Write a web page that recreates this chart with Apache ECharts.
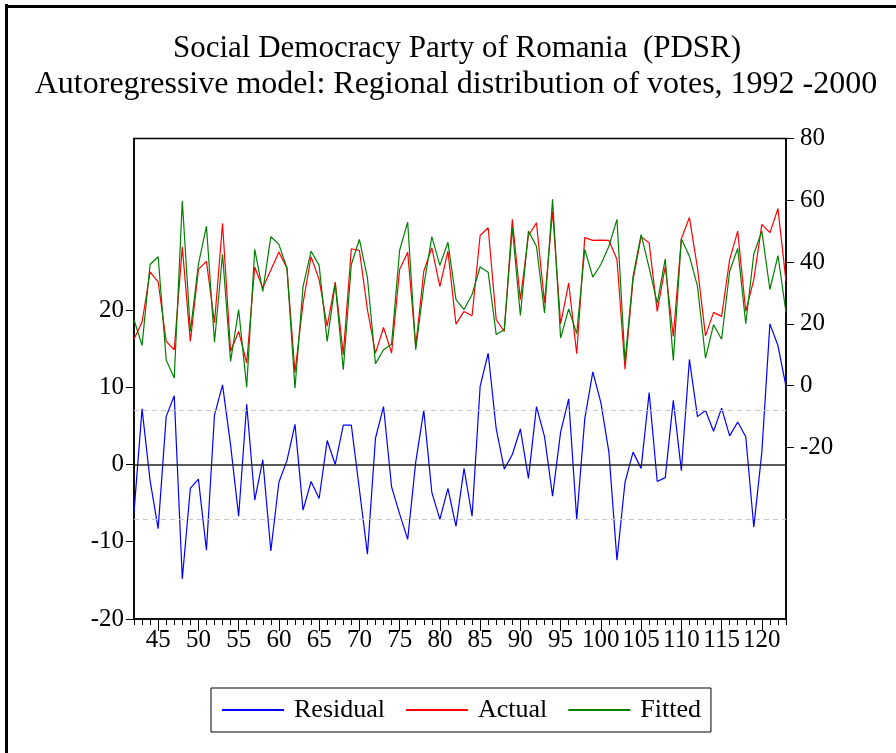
<!DOCTYPE html>
<html>
<head>
<meta charset="utf-8">
<script src="https://cdn.jsdelivr.net/npm/echarts@6/dist/echarts.min.js"></script>
<style>
html,body{margin:0;padding:0;background:#fff;}
#chart{width:896px;height:753px;}
</style>
</head>
<body>
<div id="chart"></div>
<script>
// Observations 42..123
var obsStart = 42, obsEnd = 123;
var residual = [-6.2,7.2,-2.1,-8.3,6.2,8.9,-14.8,-3.1,-1.9,-11.1,6.4,10.3,2.5,-6.7,7.8,-4.6,0.6,-11.2,-2.3,0.5,5.2,
  -5.9,-2.2,-4.4,3.1,0.0,5.1,5.1,-3.2,-11.6,3.4,7.5,-2.9,-6.4,-9.7,0.3,7.0,-3.6,-7.1,-3.1,-8.0,
  -0.5,-6.7,10.1,14.4,4.6,-0.6,1.3,4.6,-1.8,7.5,3.6,-4.1,4.2,8.5,-7.1,5.9,12.0,8.0,1.6,-12.4,
  -2.3,1.6,-0.5,9.3,-2.2,-1.7,8.3,-0.8,13.6,6.2,7.0,4.3,7.3,3.7,5.5,3.6,-8.1,1.6,18.2,15.4,10.1];
var actual = [15.1,20.5,36.8,33.6,14.3,11.6,44.9,14.3,37.6,40.2,20.3,52.5,11.1,17.5,7.3,38.4,31.6,37.4,43.2,38.1,4.2,
  26.7,41.7,34.3,19.2,33.5,10.0,44.3,43.8,24.6,10.5,18.8,10.5,37.6,43.2,12.7,37.0,44.6,32.0,43.5,19.9,
  24.0,22.6,48.6,51.1,21.3,17.5,53.8,27.8,48.6,52.7,26.7,56.5,20.0,33.2,10.3,47.9,47.0,47.1,47.0,40.8,
  5.3,34.3,48.2,46.2,24.0,38.6,15.9,47.5,54.4,38.1,16.1,23.7,22.4,40.8,50.0,24.0,34.3,52.2,49.5,57.3,33.8];
var fitted = [21.3,13.0,39.2,41.7,8.3,2.4,59.8,17.5,39.2,51.6,14.0,42.5,7.8,24.6,-0.5,44.1,30.5,48.2,45.7,38.1,-0.9,
  32.0,43.5,38.9,14.3,33.0,5.1,39.2,47.3,34.9,7.1,11.6,13.4,43.8,52.9,11.6,32.2,48.2,38.9,46.4,27.8,
  24.6,29.5,38.4,36.7,16.5,18.1,51.1,22.7,50.0,45.1,23.5,60.3,15.4,24.8,16.8,44.1,35.1,39.2,45.1,53.8,
  7.8,35.4,48.9,38.1,26.7,41.0,8.1,47.5,41.9,32.2,8.9,19.7,15.0,37.0,44.4,20.0,42.6,50.0,31.1,42.1,23.7];
var xTickLabels = [45,50,55,60,65,70,75,80,85,90,95,100,105,110,115,120];
var leftTicks = [-20,-10,0,10,20];
var rightTicks = [-20,0,20,40,60,80];
var seBand = 7.05;

function pairs(arr){ return arr.map(function(v,i){ return [obsStart+i, v]; }); }
var minorTicks = [];
for (var k = obsStart; k <= obsEnd; k++) minorTicks.push(k);

var serif = 'Liberation Serif';
var chart = echarts.init(document.getElementById('chart'), null, {renderer:'canvas'});
chart.setOption({
  animation:false,
  backgroundColor:'#fff',
  title:[
    {text:'Social Democracy Party of Romania  (PDSR)', left:452, top:28, textAlign:'center',
     textStyle:{fontFamily:serif, fontSize:31, fontWeight:'normal', color:'#000'}},
    {text:'Autoregressive model: Regional distribution of votes, 1992 -2000', left:451, top:64, textAlign:'center',
     textStyle:{fontFamily:serif, fontSize:32, fontWeight:'normal', color:'#000'}}
  ],
  graphic:[
    {type:'line', shape:{x1:6.5,y1:4,x2:6.5,y2:753}, style:{stroke:'#000', lineWidth:3}},
    {type:'line', shape:{x1:5,y1:6.5,x2:896,y2:6.5}, style:{stroke:'#000', lineWidth:3}}
  ],
  legend:{
    bottom:21, left:211,
    data:['Residual','Actual','Fitted'],
    itemWidth:62, itemHeight:2, itemGap:20,
    borderColor:'#000', borderWidth:1, padding:[9,10,9,10],
    textStyle:{fontFamily:serif, fontSize:26, color:'#000', padding:[0,0,0,5]}
  },
  grid:{left:134, right:110, top:138.5, bottom:134, show:true, borderColor:'#000', borderWidth:1.5, containLabel:false},
  xAxis:[
    {type:'value', min:obsStart, max:obsEnd, position:'bottom',
     axisLine:{show:true, onZero:false, lineStyle:{color:'#000', width:1.5}},
     axisTick:{show:true, inside:false, length:6, customValues:minorTicks, lineStyle:{color:'#000'}},
     axisLabel:{show:false},
     splitLine:{show:false}},
    {type:'value', min:obsStart, max:obsEnd, position:'bottom',
     axisLine:{show:false, onZero:false},
     axisTick:{show:true, inside:false, length:12, customValues:xTickLabels, lineStyle:{color:'#000'}},
     axisLabel:{show:true, customValues:xTickLabels, margin:9, fontFamily:serif, fontSize:25, color:'#000'},
     splitLine:{show:false}}
  ],
  yAxis:[
    {type:'value', position:'left', min:-20, max:42.2,
     axisLine:{show:true, onZero:false, lineStyle:{color:'#000', width:1.5}},
     axisTick:{show:true, inside:false, length:8, customValues:leftTicks, lineStyle:{color:'#000'}},
     axisLabel:{show:true, customValues:leftTicks, margin:10, fontFamily:serif, fontSize:25, color:'#000'},
     splitLine:{show:false}},
    {type:'value', position:'right', min:-75.6, max:80,
     axisLine:{show:true, onZero:false, lineStyle:{color:'#000', width:1.5}},
     axisTick:{show:true, inside:false, length:8, customValues:rightTicks, lineStyle:{color:'#000'}},
     axisLabel:{show:true, customValues:rightTicks, margin:14, fontFamily:serif, fontSize:25, color:'#000'},
     splitLine:{show:false}}
  ],
  series:[
    {name:'Residual', type:'line', xAxisIndex:0, yAxisIndex:0, data:pairs(residual),
     symbol:'none', lineStyle:{color:'#0000ff', width:1.2}, itemStyle:{color:'#0000ff'},
     markLine:{silent:true, symbol:'none', label:{show:false}, animation:false,
       data:[
         {yAxis:0, lineStyle:{color:'#222', width:1.5, type:'solid'}},
         {yAxis:seBand, lineStyle:{color:'#c8c8c8', width:1, type:[5,4]}},
         {yAxis:-seBand, lineStyle:{color:'#c8c8c8', width:1, type:[5,4]}}
       ]}},
    {name:'Actual', type:'line', xAxisIndex:0, yAxisIndex:1, data:pairs(actual),
     symbol:'none', lineStyle:{color:'#ff0000', width:1.2}, itemStyle:{color:'#ff0000'}},
    {name:'Fitted', type:'line', xAxisIndex:0, yAxisIndex:1, data:pairs(fitted),
     symbol:'none', lineStyle:{color:'#008000', width:1.2}, itemStyle:{color:'#008000'}}
  ]
});
</script>
</body>
</html>
